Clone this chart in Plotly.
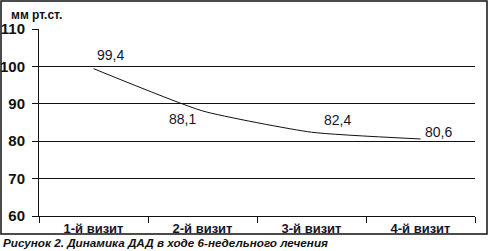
import plotly.graph_objects as go

categories = ["1-й визит", "2-й визит", "3-й визит", "4-й визит"]
dad_values = [99.4, 88.1, 82.4, 80.6]
value_labels = ["99,4", "88,1", "82,4", "80,6"]
y_ticks = [60, 70, 80, 90, 100, 110]

W, H = 489, 251
L, R, T, B = 39, 14, 29, 35
pw, ph = W - L - R, H - T - B

def px_x(p):
    return (p - L) / pw

def px_y(p):
    return (H - B - p) / ph

fig = go.Figure()
fig.add_trace(go.Scatter(
    x=categories, y=dad_values, mode="lines",
    line=dict(color="#111111", width=1, shape="spline", smoothing=0.5),
    hoverinfo="skip", showlegend=False,
))

shifts = [(17, 14), (-20, -8), (26, 12), (18, 7)]
for c, v, lab, (dx, dy) in zip(categories, dad_values, value_labels, shifts):
    fig.add_annotation(x=c, y=v, text=lab, showarrow=False, xshift=dx, yshift=dy,
                       font=dict(family="Liberation Sans, Arial", size=14, color="#15152a"))

fig.add_annotation(xref="paper", yref="paper", x=px_x(9), y=px_y(15), text="<b>мм рт.ст.</b>",
                   showarrow=False, xanchor="left", yanchor="middle",
                   font=dict(family="Liberation Sans, Arial", size=12, color="#111111"))
fig.add_annotation(xref="paper", yref="paper", x=px_x(1), y=px_y(243),
                   text="<b><i>Рисунок 2. Динамика ДАД в ходе 6-недельного лечения</i></b>",
                   showarrow=False, xanchor="left", yanchor="middle",
                   font=dict(family="Liberation Sans, Arial", size=11.7, color="#111111"))

fig.add_shape(type="rect", xref="paper", yref="paper",
              x0=px_x(1), x1=px_x(487), y0=px_y(234), y1=px_y(1),
              line=dict(color="#111111", width=1.5))

fig.update_layout(
    width=W, height=H, margin=dict(l=L, r=R, t=T, b=B),
    paper_bgcolor="white", plot_bgcolor="white",
    xaxis=dict(type="category", range=[-0.5, len(categories) - 0.5], automargin=False,
               showline=True, linecolor="#111111", linewidth=1,
               ticks="outside", ticklen=6, tickcolor="#111111", tickson="boundaries",
               showgrid=False,
               tickfont=dict(family="Liberation Sans, Arial", size=13, color="#15152a", weight="bold"),
               ticklabelstandoff=0, fixedrange=True),
    yaxis=dict(range=[60, 110], tickvals=y_ticks, automargin=False,
               showline=True, linecolor="#111111", linewidth=1,
               ticks="outside", ticklen=6, tickcolor="#111111",
               showgrid=True, gridcolor="#111111", gridwidth=1, zeroline=False,
               tickfont=dict(family="Liberation Sans, Arial", size=15, color="#111111", weight="bold"),
               ticklabelstandoff=4, fixedrange=True),
)

fig.write_html("out.html")
